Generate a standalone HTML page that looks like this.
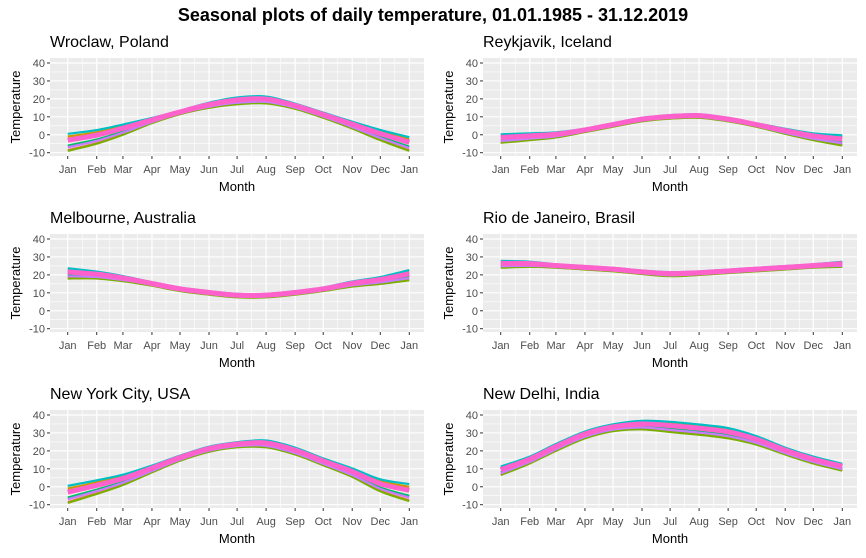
<!DOCTYPE html>
<html><head><meta charset="utf-8"><style>
body{margin:0;background:#fff;}
svg text{font-family:"Liberation Sans",Arial,sans-serif;}
</style></head><body>
<svg id="c" width="866" height="553" viewBox="0 0 866 553">
<text x="433" y="21" text-anchor="middle" font-size="18" font-weight="bold" fill="#000">Seasonal plots of daily temperature, 01.01.1985 - 31.12.2019</text>
</svg>
<script>
const monthLabels=["Jan","Feb","Mar","Apr","May","Jun","Jul","Aug","Sep","Oct","Nov","Dec","Jan"];
const monthDays=[0,31,59,90,120,151,181,212,243,273,304,334,365];
const yTicks=[-10,0,10,20,30,40];
const cities=["Wroclaw, Poland","Reykjavik, Iceland","Melbourne, Australia","Rio de Janeiro, Brasil","New York City, USA","New Delhi, India"];
const wroclaw=[-4,-1,3,8,12.5,16.5,19,19.5,16,11,5.5,0,-5];
const reykjavik=[-2,-1,0,2.5,5.5,8.5,10,10.5,8.5,5.5,2,-1,-3];
const melbourne=[21,20,18,15,12,10,8.5,8.5,10,12,15,17,20];
const rio=[26,26,25,24,23,21.5,20.5,21,22,23,24,25,26];
const nyc=[-4,0,4,10,16,21,23.5,24,20,14,8,1,-3];
const delhi=[9,15,22,29,33,34.5,33.5,32,30,26,20,15,11];
const wroclawSpread=[5,4,3,1.5,1,1.5,2,2,1.5,1.5,2,3,4];
const reykjavikSpread=[2.5,2,1.5,1,1,1,1,1,1,1,1.5,2,3];
const melbourneSpread=[3,2,1.5,1,1,1,1,1,1,1,1.5,2,3];
const rioSpread=[2,1.5,1,1,1,1,1.2,1,1,1,1,1,1.5];
const nycSpread=[5,4,3,2,1.5,1.5,1.5,2,2,2,2.5,3.5,5];
const delhiSpread=[2.5,2,2,2,2,2.5,3,3,3,2.5,2,2,2];
const yearOffsets=[-0.9,0.6,-1,-0.4,0.9,0.3,-0.6,0.2];
const colors=["#F8766D","#CD9600","#7CAE00","#00BE67","#00BFC4","#00A9FF","#C77CFF","#FF61CC"];
const series=[wroclaw,reykjavik,melbourne,rio,nyc,delhi];
const spreads=[wroclawSpread,reykjavikSpread,melbourneSpread,rioSpread,nycSpread,delhiSpread];
const NS="http://www.w3.org/2000/svg";
const svg=document.getElementById("c");
function mk(t,a,p){const e=document.createElementNS(NS,t);for(const k in a)e.setAttribute(k,a[k]);(p||svg).appendChild(e);return e;}
function path(pts){let d="M"+pts[0][0]+","+pts[0][1];for(let i=0;i<pts.length-1;i++){const p0=pts[i-1]||pts[i],p1=pts[i],p2=pts[i+1],p3=pts[i+2]||p2;
d+=" C"+(p1[0]+(p2[0]-p0[0])/6)+","+(p1[1]+(p2[1]-p0[1])/6)+" "+(p2[0]-(p3[0]-p1[0])/6)+","+(p2[1]-(p3[1]-p1[1])/6)+" "+p2[0]+","+p2[1];}return d;}
for(let p=0;p<6;p++){
 const ox=(p%2)*433, oy=Math.floor(p/2)*176;
 const g=mk("g",{transform:`translate(${ox},${oy})`});
 
 
 const X=d=>67.7+d*341.6/365, Y=v=>152.7-(v+10)*1.794;
 const t=mk("text",{x:50,y:47,"font-size":16,fill:"#000"},g);t.textContent=cities[p];
 
 const bg=mk("rect",{x:50,y:58,width:374,height:98,fill:"#EBEBEB"},g);
 
 for(let i=0;i<yTicks.length-1;i++){const v=(yTicks[i]+yTicks[i+1])/2;mk("line",{x1:50,x2:424,y1:Y(v),y2:Y(v),stroke:"#fff","stroke-width":0.6},g);}
 for(let i=0;i<12;i++){const d=(monthDays[i]+monthDays[i+1])/2;mk("line",{x1:X(d),x2:X(d),y1:58,y2:156,stroke:"#fff","stroke-width":0.6},g);}
 yTicks.forEach(v=>{mk("line",{x1:50,x2:424,y1:Y(v),y2:Y(v),stroke:"#fff","stroke-width":1.2},g);
  mk("line",{x1:47,x2:50,y1:Y(v),y2:Y(v),stroke:"#333"},g);
  const l=mk("text",{x:45,y:Y(v)+4,"font-size":11,fill:"#4D4D4D","text-anchor":"end"},g);l.textContent=v;
  });
 monthDays.forEach((d,i)=>{mk("line",{x1:X(d),x2:X(d),y1:58,y2:156,stroke:"#fff","stroke-width":1.2},g);
  mk("line",{x1:X(d),x2:X(d),y1:156,y2:159,stroke:"#333"},g);
  const l=mk("text",{x:X(d),y:173,"font-size":11,fill:"#4D4D4D","text-anchor":"middle"},g);l.textContent=monthLabels[i];
  });
 const xt=mk("text",{x:237,y:191,"font-size":13,fill:"#000","text-anchor":"middle"},g);xt.textContent="Month";
 
 const yt=mk("text",{x:0,y:0,"font-size":13,fill:"#000","text-anchor":"middle",transform:"translate(20,107) rotate(-90)"},g);yt.textContent="Temperature";
 
 yearOffsets.forEach((o,k)=>{
  const pts=series[p].map((v,i)=>[X(monthDays[i]),Y(v+o*spreads[p][i])]);
  const ln=mk("path",{d:path(pts),fill:"none",stroke:colors[k],"stroke-width":k==7?5:2.2},g);
  
 });
}
</script>
</body></html>
